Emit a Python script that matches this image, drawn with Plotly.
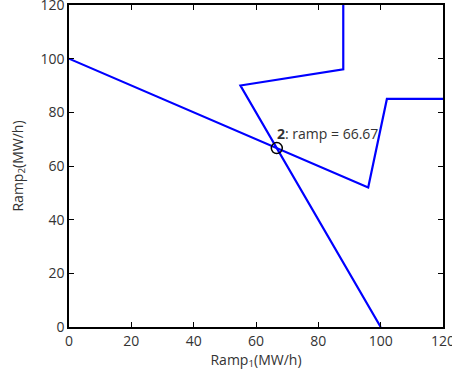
import plotly.graph_objects as go

# Boundary 1 (ramp limit polyline)
line1_x = [0, 96, 102, 120]
line1_y = [100, 52, 85, 85]
# Boundary 2
line2_x = [100, 55, 88, 88]
line2_y = [0, 90, 96, 120]
# Marked point
pt_x = [66.67]
pt_y = [66.67]
pt_label = "<b>2</b>: ramp = 66.67"

x_ticks = [0, 20, 40, 60, 80, 100, 120]
y_ticks = [0, 20, 40, 60, 80, 100, 120]

fig = go.Figure()
fig.add_trace(go.Scatter(x=line1_x, y=line1_y, mode="lines",
                         line=dict(color="#0000ff", width=2.2), showlegend=False))
fig.add_trace(go.Scatter(x=line2_x, y=line2_y, mode="lines",
                         line=dict(color="#0000ff", width=2.2), showlegend=False))
fig.add_trace(go.Scatter(x=pt_x, y=pt_y, mode="markers",
                         marker=dict(symbol="circle-open", size=11, color="black",
                                     line=dict(width=1.5)), showlegend=False))
fig.add_annotation(x=pt_x[0], y=pt_y[0], text=pt_label, showarrow=False,
                   xanchor="left", yanchor="bottom", xshift=-2, yshift=3,
                   font=dict(size=14, color="#333333"))

font_family = "Open Sans, Liberation Sans, sans-serif"
axis_common = dict(showgrid=False, zeroline=False, showline=True, linecolor="black",
                   linewidth=1.5, mirror="ticks", ticks="inside", ticklen=5,
                   tickcolor="black", tickwidth=1, range=[0, 120],
                   automargin=False, ticklabeloverflow="allow",
                   tickfont=dict(size=14, color="#333333"))
fig.update_xaxes(**axis_common, tickvals=x_ticks,
                 title=dict(text="Ramp<sub>1</sub>(MW/h)", standoff=0,
                            font=dict(size=14, color="#333333")))
fig.update_yaxes(**axis_common, tickvals=y_ticks,
                 title=dict(text="Ramp<sub>2</sub>(MW/h)", standoff=14,
                            font=dict(size=14, color="#333333")))
fig.update_layout(width=452, height=376, plot_bgcolor="white", paper_bgcolor="white",
                  margin=dict(l=69, r=9, t=5, b=49),
                  font=dict(family=font_family, color="#333333"))
fig.write_html("out.html", config={"displayModeBar": False},
               post_script="document.body.style.margin='0';document.body.style.overflow='hidden';")
